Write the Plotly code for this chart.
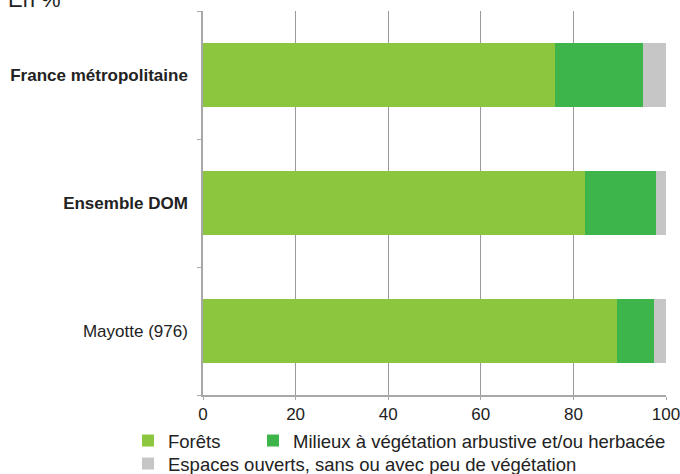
import plotly.graph_objects as go

categories = ["France métropolitaine", "Ensemble DOM", "Mayotte (976)"]
tick_labels = ["<b>France métropolitaine</b>", "<b>Ensemble DOM</b>", "Mayotte (976)"]
forets = [76.1, 82.4, 89.4]
milieux = [18.9, 15.5, 8.0]
espaces = [5.0, 2.1, 2.6]
series_names = ["Forêts", "Milieux à végétation arbustive et/ou herbacée",
                "Espaces ouverts, sans ou avec peu de végétation"]
colors = ["#8cc63f", "#3db54a", "#c6c6c6"]
x_ticks = [0, 20, 40, 60, 80, 100]

FONT = "Liberation Sans, Arial, sans-serif"
W, H = 680, 474
L, R, T, B = 203, 14, 11, 79
pw, ph = W - L - R, H - T - B

fig = go.Figure()
legends = ["legend", "legend2", "legend3"]
for name, vals, col, lg in zip(series_names, [forets, milieux, espaces], colors, legends):
    fig.add_trace(go.Bar(
        y=categories, x=vals, name=name, orientation="h",
        marker=dict(color=col, line=dict(width=0)),
        width=0.5, legend=lg,
    ))

def px_x(p):
    return (p - L) / pw

def px_y(p):
    return 1 - (p - T) / ph

leg_common = dict(
    font=dict(family=FONT, size=18.5, color="#222222"),
    bgcolor="rgba(0,0,0,0)", borderwidth=0,
    xanchor="left", yanchor="middle", orientation="h",
    itemwidth=30, tracegroupgap=0,
)

fig.update_layout(
    width=W, height=H,
    margin=dict(l=L, r=R, t=T, b=B, pad=0, autoexpand=False),
    paper_bgcolor="white", plot_bgcolor="white",
    barmode="stack", bargap=0.5,
    font=dict(family=FONT, size=16, color="#222222"),
    showlegend=True,
    legend=dict(x=px_x(128), y=px_y(441), **leg_common),
    legend2=dict(x=px_x(253), y=px_y(441), **leg_common),
    legend3=dict(x=px_x(128), y=px_y(464), **leg_common),
    xaxis=dict(
        range=[0, 100], tickvals=x_ticks, ticktext=[str(v) for v in x_ticks],
        showgrid=True, gridcolor="#9a9a9a", gridwidth=1.2,
        showline=True, linecolor="#a8a8a8", linewidth=1.5,
        ticks="outside", ticklen=3, tickcolor="#a8a8a8", tickwidth=1.2,
        tickfont=dict(family=FONT, size=17, color="#222222"),
        ticklabeloverflow="allow",
        zeroline=False, fixedrange=True, automargin=False,
    ),
    yaxis=dict(
        type="category", categoryorder="array", categoryarray=categories,
        autorange="reversed",
        tickvals=categories, ticktext=tick_labels,
        tickson="boundaries",
        showline=True, linecolor="#a8a8a8", linewidth=1.5,
        ticks="outside", ticklen=4, tickcolor="#a8a8a8", tickwidth=1.2,
        ticklabelstandoff=10,
        tickfont=dict(family=FONT, size=17, color="#222222"),
        showgrid=False, zeroline=False, automargin=False,
    ),
    annotations=[dict(
        text="En %", xref="paper", yref="paper",
        x=px_x(6), y=px_y(14), xanchor="left", yanchor="bottom",
        showarrow=False, font=dict(family=FONT, size=22, color="#222222"),
    )],
)

fig.write_html("out.html", config={"displayModeBar": False},
               post_script="document.body.style.margin='0';")
